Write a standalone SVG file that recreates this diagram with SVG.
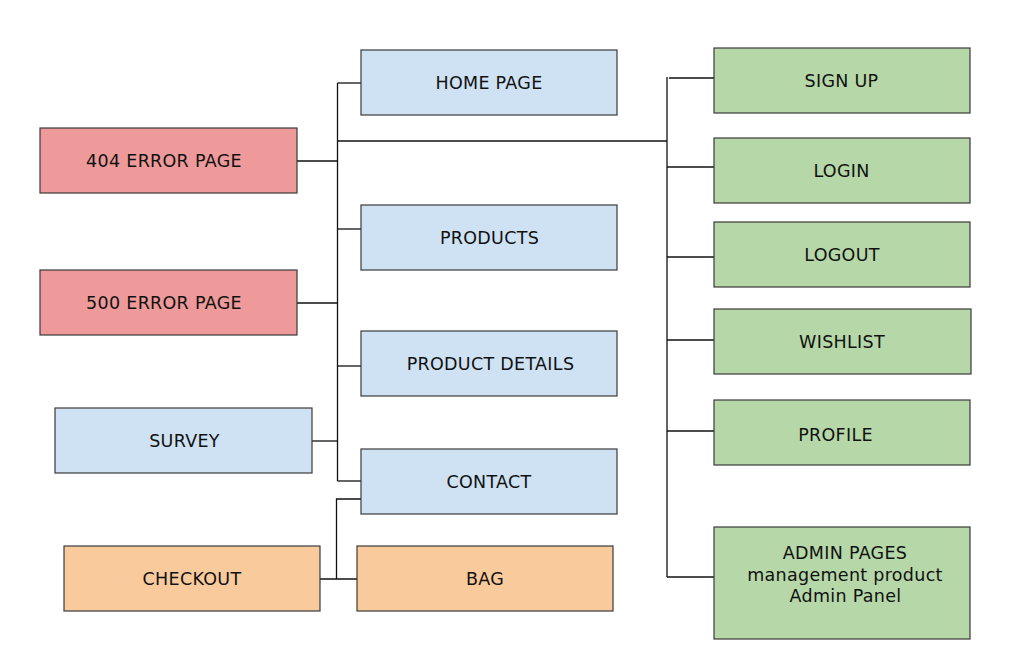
<svg xmlns="http://www.w3.org/2000/svg" width="1012" height="665" viewBox="0 0 1012 665">
<style>
.n rect{stroke:#3a3a3a;stroke-width:1.2}
.b{fill:#cfe2f3}.r{fill:#ee9a9a}.g{fill:#b6d7a8}.o{fill:#f9cb9c}
text{font-family:"DejaVu Sans","Liberation Sans",sans-serif;font-size:17.5px;letter-spacing:0.3px;fill:#111;text-anchor:middle}
#connectors path{fill:none;stroke:#111;stroke-width:1.3}
</style>
<g id="connectors">
<path d="M337.5 83V481"/>
<path d="M337.5 83H361"/>
<path d="M297 161H337.5"/>
<path d="M337.5 141H667"/>
<path d="M337.5 229H361"/>
<path d="M297 303H337.5"/>
<path d="M337.5 366H361"/>
<path d="M312 441H337.5"/>
<path d="M337.5 481H361"/>
<path d="M361 499H336.5V579"/>
<path d="M318 579H357"/>
<path d="M667 77V577"/>
<path d="M669 78H714"/>
<path d="M667 167H714"/>
<path d="M667 257H714"/>
<path d="M667 340H714"/>
<path d="M667 431H714"/>
<path d="M667 577H714"/>
</g>
<g id="home" class="n"><rect class="b" x="361" y="50" width="256" height="65"/><text x="489" y="89">HOME PAGE</text></g>
<g id="e404" class="n"><rect class="r" x="40" y="128" width="257" height="65"/><text x="164" y="167">404 ERROR PAGE</text></g>
<g id="products" class="n"><rect class="b" x="361" y="205" width="256" height="65"/><text x="489.5" y="244">PRODUCTS</text></g>
<g id="e500" class="n"><rect class="r" x="40" y="270" width="257" height="65"/><text x="164" y="309">500 ERROR PAGE</text></g>
<g id="details" class="n"><rect class="b" x="361" y="331" width="256" height="65"/><text x="490.5" y="370">PRODUCT DETAILS</text></g>
<g id="survey" class="n"><rect class="b" x="55" y="408" width="257" height="65"/><text x="184.5" y="447">SURVEY</text></g>
<g id="contact" class="n"><rect class="b" x="361" y="449" width="256" height="65"/><text x="489" y="488">CONTACT</text></g>
<g id="checkout" class="n"><rect class="o" x="64" y="546" width="256" height="65"/><text x="192" y="585">CHECKOUT</text></g>
<g id="bag" class="n"><rect class="o" x="357" y="546" width="256" height="65"/><text x="485" y="585">BAG</text></g>
<g id="signup" class="n"><rect class="g" x="714" y="48" width="256" height="65"/><text x="841.5" y="87">SIGN UP</text></g>
<g id="login" class="n"><rect class="g" x="714" y="138" width="256" height="65"/><text x="841.5" y="177">LOGIN</text></g>
<g id="logout" class="n"><rect class="g" x="714" y="222" width="256" height="65"/><text x="842" y="261">LOGOUT</text></g>
<g id="wishlist" class="n"><rect class="g" x="714" y="309" width="257" height="65"/><text x="842" y="348">WISHLIST</text></g>
<g id="profile" class="n"><rect class="g" x="714" y="400" width="256" height="65"/><text x="835.5" y="441">PROFILE</text></g>
<g id="admin" class="n"><rect class="g" x="714" y="527" width="256" height="112"/><text x="845" y="559">ADMIN PAGES</text><text x="845" y="581">management product</text><text x="845.5" y="602">Admin Panel</text></g>
</svg>
